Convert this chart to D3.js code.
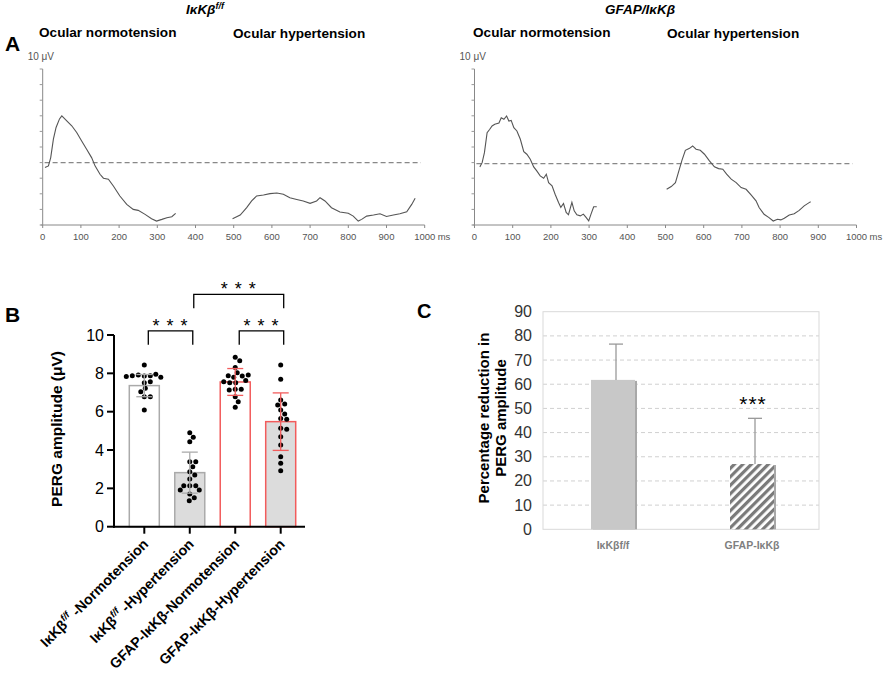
<!DOCTYPE html>
<html><head><meta charset="utf-8">
<script src="https://cdn.jsdelivr.net/npm/d3@7"></script>
<style>body{margin:0;background:#fff} svg{display:block;font-family:"Liberation Sans",Arial,sans-serif}</style>
</head><body><svg id="c" width="887" height="675"></svg>
<script>
// ---------- Panel A: PERG traces [ms, µV] ----------
const ikkNormo = [[6,-0.32],[15,-0.21],[21,0.32],[28,1.5],[35,2.25],[44,2.8],[50,3.0],[54,2.9],[63,2.68],[76,2.36],[89,1.93],[102,1.39],[115,0.86],[128,0.32],[137,-0.21],[150,-0.75],[159,-1.0],[172,-1.07],[185,-1.5],[202,-2.14],[220,-2.68],[237,-3.0],[250,-3.06],[268,-3.32],[285,-3.6],[298,-3.75],[312,-3.64],[325,-3.53],[338,-3.47],[348,-3.25]];
const ikkHyper = [[497,-3.6],[517,-3.36],[534,-2.89],[547,-2.46],[560,-2.14],[578,-2.08],[595,-1.99],[613,-1.95],[630,-2.03],[647,-2.25],[665,-2.36],[682,-2.46],[700,-2.61],[717,-2.46],[726,-2.25],[739,-2.46],[756,-2.89],[778,-3.17],[800,-3.25],[813,-3.43],[826,-3.75],[835,-3.64],[848,-3.43],[866,-3.36],[883,-3.28],[900,-3.45],[918,-3.36],[935,-3.28],[953,-3.15],[966,-2.68],[975,-2.29]];
const gfapNormo = [[14,-0.21],[20,0.06],[26,0.7],[33,1.98],[40,2.2],[46,2.41],[53,2.52],[64,2.6],[70,2.94],[77,2.84],[84,3.05],[90,2.73],[96,2.77],[103,2.3],[111,2.09],[120,1.56],[129,0.77],[137,0.6],[146,0.28],[155,-0.21],[163,-0.47],[172,-0.79],[181,-0.94],[188,-0.68],[194,-1.22],[203,-1.43],[211,-1.96],[220,-2.49],[226,-2.81],[233,-2.56],[240,-3.13],[246,-3.28],[255,-2.49],[261,-3.03],[268,-3.28],[277,-3.35],[285,-3.24],[292,-3.45],[299,-3.67],[305,-3.24],[312,-2.77],[320,-2.77]];
const gfapHyper = [[503,-1.65],[515,-1.47],[526,-1.22],[535,-0.47],[543,0.21],[552,0.85],[563,0.98],[571,1.13],[580,0.92],[591,0.85],[602,0.6],[615,0.17],[628,-0.21],[639,-0.32],[650,-0.36],[660,-0.68],[672,-1.0],[685,-1.22],[698,-1.54],[711,-1.65],[724,-2.01],[737,-2.39],[745,-2.82],[758,-3.25],[771,-3.46],[782,-3.68],[793,-3.57],[802,-3.61],[811,-3.5],[824,-3.29],[837,-3.21],[850,-3.0],[863,-2.71],[876,-2.5],[880,-2.44]];
const traceTicksX = [0,100,200,300,400,500,600,700,800,900,1000];
const traceTicksY = [-4,-3,-2,-1,0,1,2,3,4,5,6];

// ---------- Panel B ----------
const groupsB = ["ikkN","ikkH","gfapN","gfapH"];
const meansB = [7.36, 2.82, 7.55, 5.48];
const sdB = [0.58, 1.07, 0.7, 1.5];
const dotsB = [
  [8.43,7.86,7.88,7.91,7.95,7.88,7.79,7.83,7.51,7.56,7.22,7.04,6.78,6.78,6.09],
  [4.9,4.66,4.43,3.39,3.39,3.13,2.87,2.7,2.49,2.14,2.14,2.14,1.91,1.91,1.71,1.51,1.36],
  [8.84,8.66,8.31,8.03,7.79,7.86,7.88,7.91,7.51,7.51,7.62,7.56,7.17,7.17,7.13,6.78,6.52,6.23],
  [8.43,7.69,6.61,6.4,6.35,6.09,5.88,5.65,5.6,5.13,5.08,4.69,4.26,3.65,3.31,2.92]
];
const ticksB = [0,2,4,6,8,10];
const bracketsB = [[0,1,10.22],[2,3,10.22],[1,3,12.12]];

// ---------- Panel C ----------
const groupsC = ["IκKβf/f","GFAP-IκKβ"];
const meansC = [61.8, 27.0];
const sdC = [14.8, 18.9];
const ticksC = [0,10,20,30,40,50,60,70,80,90];

const svg = d3.select("#c");

// ======== Panel A ========
svg.append("text").attr("x",5).attr("y",51).attr("font-size",21).attr("font-weight","bold").text("A");

function traceTitle(cx, parts){
  const t = svg.append("text").attr("x",cx).attr("y",14).attr("text-anchor","middle")
    .attr("font-size",13.5).attr("font-weight","bold").attr("font-style","italic");
  parts.forEach(p=>{
    const s=t.append("tspan").text(p.t);
    if(p.sup) s.attr("font-size",9).attr("dy",-5);
  });
}
traceTitle(205,[{t:"IκKβ"},{t:"f/f",sup:true}]);
traceTitle(640,[{t:"GFAP/IκKβ"}]);

function tracePanel(x0, normo, hyper, labelX, dashY){
  const x = d3.scaleLinear().domain([0,1000]).range([x0, x0+382]);
  const y = d3.scaleLinear().domain([-4,6]).range([225,69]);
  const g = svg.append("g");
  g.append("text").attr("x",labelX).attr("y",37).attr("font-size",13.6).attr("font-weight","bold").text("Ocular normotension");
  g.append("text").attr("x",labelX+194).attr("y",38).attr("font-size",13.6).attr("font-weight","bold").text("Ocular hypertension");
  g.append("text").attr("x",x0-15).attr("y",60).attr("font-size",10).attr("fill","#555").text("10 μV");
  // axes
  g.append("line").attr("x1",x(0)).attr("x2",x(0)).attr("y1",y(6)).attr("y2",y(-4)).attr("stroke","#888");
  g.append("line").attr("x1",x(0)-2).attr("x2",x(1000)).attr("y1",y(-4)).attr("y2",y(-4)).attr("stroke","#888");
  g.selectAll(".yt").data(traceTicksY).join("line").attr("x1",x(0)-3).attr("x2",x(0))
    .attr("y1",d=>y(d)).attr("y2",d=>y(d)).attr("stroke","#999");
  g.selectAll(".xt").data(traceTicksX).join("line").attr("x1",d=>x(d)).attr("x2",d=>x(d))
    .attr("y1",y(-4)).attr("y2",y(-4)+3).attr("stroke","#888");
  g.selectAll(".xl").data(traceTicksX).join("text").attr("x",d=>x(d)).attr("y",240)
    .attr("text-anchor","middle").attr("font-size",9.5).attr("fill","#555").text(d=>d);
  g.append("text").attr("x",x(1000)+13).attr("y",240).attr("font-size",9.5).attr("fill","#555").text("ms");
  // baseline
  g.append("line").attr("x1",x(5)).attr("x2",x(990)).attr("y1",y(0)+dashY).attr("y2",y(0)+dashY)
    .attr("stroke","#888").attr("stroke-width",1.2).attr("stroke-dasharray","5,3");
  const line = d3.line().x(d=>x(d[0])).y(d=>y(d[1])+dashY);
  [normo, hyper].forEach(d=>g.append("path").attr("d",line(d)).attr("fill","none")
    .attr("stroke","#555").attr("stroke-width",1.1));
}
tracePanel(42.7, ikkNormo, ikkHyper, 39, 0);
tracePanel(474.5, gfapNormo, gfapHyper, 473, 1);

// ======== Panel B ========
svg.append("text").attr("x",5).attr("y",322).attr("font-size",21).attr("font-weight","bold").text("B");
const xB = d3.scalePoint().domain(groupsB).range([144.3, 280.7]);
const yB = d3.scaleLinear().domain([0,10]).range([526.7,335]);
const gB = svg.append("g");
const barW = 30;
const fills = ["#fff","#dcdcdc","#fff","#dcdcdc"];
const strokes = ["#aaa","#aaa","#f25c5c","#f25c5c"];
groupsB.forEach((k,i)=>{
  gB.append("rect").attr("x",xB(k)-barW/2).attr("y",yB(meansB[i])).attr("width",barW)
    .attr("height",yB(0)-yB(meansB[i])).attr("fill",fills[i]).attr("stroke",strokes[i]).attr("stroke-width",1.5);
});
// dots (beeswarm)
const rDot = 2.5;
groupsB.forEach((k,i)=>{
  const placed=[];
  const cx = xB(k);
  dotsB[i].forEach(v=>{
    const py=yB(v);
    let off=0, step=0;
    while(true){
      const px = cx+off;
      if(placed.every(p=>Math.hypot(p[0]-px,p[1]-py)>=2*rDot+0.6)){placed.push([px,py]);break;}
      step++; off = (step%2? 1:-1)*Math.ceil(step/2)*0.5;
    }
  });
  gB.selectAll(null).data(placed).join("circle").attr("cx",d=>d[0]).attr("cy",d=>d[1]).attr("r",rDot).attr("fill","#000");
});
// error bars
groupsB.forEach((k,i)=>{
  const c=xB(k), col=strokes[i], hw=8;
  const t=yB(meansB[i]+sdB[i]), b=yB(meansB[i]-sdB[i]);
  gB.append("line").attr("x1",c).attr("x2",c).attr("y1",t).attr("y2",b).attr("stroke",col).attr("stroke-width",1.3);
  [t,b].forEach(yy=>gB.append("line").attr("x1",c-hw).attr("x2",c+hw).attr("y1",yy).attr("y2",yy).attr("stroke",col).attr("stroke-width",1.3));
});
// axes
gB.append("line").attr("x1",114).attr("x2",114).attr("y1",yB(10)).attr("y2",yB(0)+1).attr("stroke","#000").attr("stroke-width",2);
gB.append("line").attr("x1",113).attr("x2",305).attr("y1",yB(0)).attr("y2",yB(0)).attr("stroke","#000").attr("stroke-width",2);
gB.selectAll(".ty").data(ticksB).join("line").attr("x1",107).attr("x2",114).attr("y1",d=>yB(d)).attr("y2",d=>yB(d)).attr("stroke","#000").attr("stroke-width",2);
gB.selectAll(".ly").data(ticksB).join("text").attr("x",104).attr("y",d=>yB(d)+5.5).attr("text-anchor","end").attr("font-size",16).text(d=>d);
gB.selectAll(".tx").data(groupsB).join("line").attr("x1",d=>xB(d)).attr("x2",d=>xB(d)).attr("y1",yB(0)).attr("y2",yB(0)+7).attr("stroke","#000").attr("stroke-width",2);
// y label
gB.append("text").attr("transform","translate(62,429) rotate(-90)").attr("text-anchor","middle")
  .attr("font-size",15.5).attr("font-weight","bold").text("PERG amplitude (μV)");
// x labels
const xlabB = [
  [{t:"IκKβ"},{t:"f/f",sup:true},{t:" -Normotension"}],
  [{t:"IκKβ"},{t:"f/f",sup:true},{t:" -Hypertension"}],
  [{t:"GFAP-IκKβ-Normotension"}],
  [{t:"GFAP-IκKβ-Hypertension"}]
];
groupsB.forEach((k,i)=>{
  const t=gB.append("text").attr("transform",`translate(${xB(k)+5},${545}) rotate(-45)`)
    .attr("text-anchor","end").attr("font-size",14.3).attr("font-weight","bold");
  xlabB[i].forEach(p=>{
    const s=t.append("tspan").text(p.t);
    if(p.sup) s.attr("font-size",9.5).attr("font-style","italic").attr("dy",-6);
    else if(p.t.startsWith(" ")) s.attr("dy",6);
  });
});
// brackets
bracketsB.forEach(([a,b,v])=>{
  const x1=xB(groupsB[a])+4, x2=xB(groupsB[b])+3, yy=yB(v), y2=yy+14;
  gB.append("path").attr("d",`M${x1},${y2}V${yy}H${x2}V${y2}`).attr("fill","none").attr("stroke","#000").attr("stroke-width",1.3);
  gB.append("text").attr("x",(x1+x2)/2).attr("y",yy+1).attr("text-anchor","middle").attr("font-size",18)
    .attr("letter-spacing",1).text("* * *");
});

// ======== Panel C ========
svg.append("text").attr("x",417).attr("y",318).attr("font-size",20).attr("font-weight","bold").text("C");
const yC = d3.scaleLinear().domain([0,90]).range([529.3,311.7]);
const xC = d3.scalePoint().domain(groupsC).range([613,752]);
const gC = svg.append("g");
const defs = svg.append("defs");
defs.append("pattern").attr("id","hatch").attr("patternUnits","userSpaceOnUse").attr("width",6).attr("height",6)
  .attr("patternTransform","rotate(45)")
  .call(p=>{p.append("rect").attr("width",6).attr("height",6).attr("fill","#fff");
            p.append("rect").attr("width",3.2).attr("height",6).attr("fill","#7a7a7a");});
gC.selectAll(".grid").data(ticksC.filter(d=>d>0&&d<90)).join("line").attr("x1",543).attr("x2",819)
  .attr("y1",d=>yC(d)).attr("y2",d=>yC(d)).attr("stroke","#d0d0d0").attr("stroke-dasharray","4,3");
gC.append("rect").attr("x",543).attr("y",yC(90)).attr("width",276).attr("height",yC(0)-yC(90))
  .attr("fill","none").attr("stroke","#d9d9d9");
gC.selectAll(".ly").data(ticksC).join("text").attr("x",532).attr("y",d=>yC(d)+5.5).attr("text-anchor","end")
  .attr("font-size",16).attr("fill","#333").text(d=>d);
const bwC=44;
groupsC.forEach((k,i)=>{
  const x0=xC(k)-bwC/2, yt=yC(meansC[i]);
  gC.append("rect").attr("x",x0+2).attr("y",yt+1).attr("width",bwC).attr("height",yC(0)-yt-1).attr("fill","#a8a8a8");
  gC.append("rect").attr("x",x0).attr("y",yt).attr("width",bwC).attr("height",yC(0)-yt)
    .attr("fill", i===0?"#c8c8c8":"url(#hatch)");
  const c=xC(k)+3, top=yC(meansC[i]+sdC[i]);
  gC.append("line").attr("x1",c).attr("x2",c).attr("y1",yt).attr("y2",top).attr("stroke","#9a9a9a").attr("stroke-width",1.3);
  gC.append("line").attr("x1",c-7).attr("x2",c+7).attr("y1",top).attr("y2",top).attr("stroke","#9a9a9a").attr("stroke-width",1.3);
  gC.append("text").attr("x",xC(k)).attr("y",549).attr("text-anchor","middle").attr("font-size",10.5)
    .attr("font-weight","bold").attr("fill","#7f7f7f").text(k);
});
gC.append("text").attr("x",xC(groupsC[1])+1).attr("y",411).attr("text-anchor","middle").attr("font-size",21)
  .attr("letter-spacing",1).text("***");
gC.append("text").attr("transform","translate(489,418) rotate(-90)").attr("text-anchor","middle")
  .attr("font-size",15).attr("font-weight","bold").text("Percentage reduction in");
gC.append("text").attr("transform","translate(506,418) rotate(-90)").attr("text-anchor","middle")
  .attr("font-size",15).attr("font-weight","bold").text("PERG amplitude");
</script></body></html>
